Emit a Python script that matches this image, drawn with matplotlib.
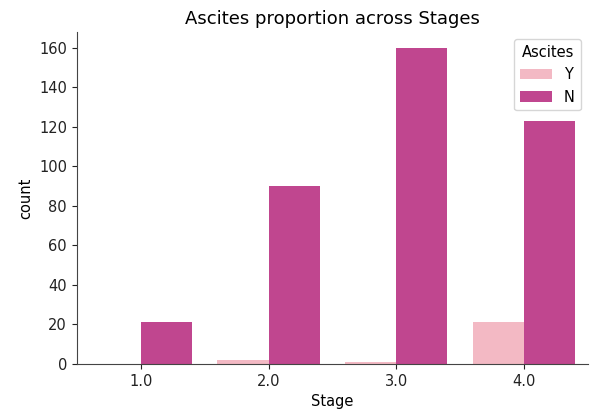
import numpy as np
import matplotlib
matplotlib.use("Agg")
import matplotlib.pyplot as plt

# counts
stages = ["1.0", "2.0", "3.0", "4.0"]
hue_levels = ["Y", "N"]
count_y = [0, 2, 1, 21]
count_n = [21, 90, 160, 123]
colors = ["#f3b9c4", "#c0468f"]

fig = plt.figure(figsize=(5.91, 4.15), dpi=100)
ax = fig.add_axes([0.130, 0.123, 0.865, 0.800])

x = np.arange(len(stages))
width = 0.4
ax.bar(x - width / 2, count_y, width, color=colors[0], label=hue_levels[0])
ax.bar(x + width / 2, count_n, width, color=colors[1], label=hue_levels[1])

ax.set_xticks(x)
ax.set_xticklabels(stages)
ax.set_xlim(-0.5, 3.5)
ax.tick_params(labelsize=10.5, colors="#222222")
ax.set_xlabel("Stage", fontsize=10.5)
ax.set_ylabel("count", fontsize=10.5)
ax.set_title("Ascites proportion across Stages", fontsize=13)

ax.spines["top"].set_visible(False)
ax.spines["right"].set_visible(False)
ax.spines["left"].set_color("#444444")
ax.spines["bottom"].set_color("#444444")

leg = ax.legend(title="Ascites", loc="upper right", fontsize=10.5, title_fontsize=10.5,
                handlelength=2.2)

fig.savefig("out.png", dpi=100)
